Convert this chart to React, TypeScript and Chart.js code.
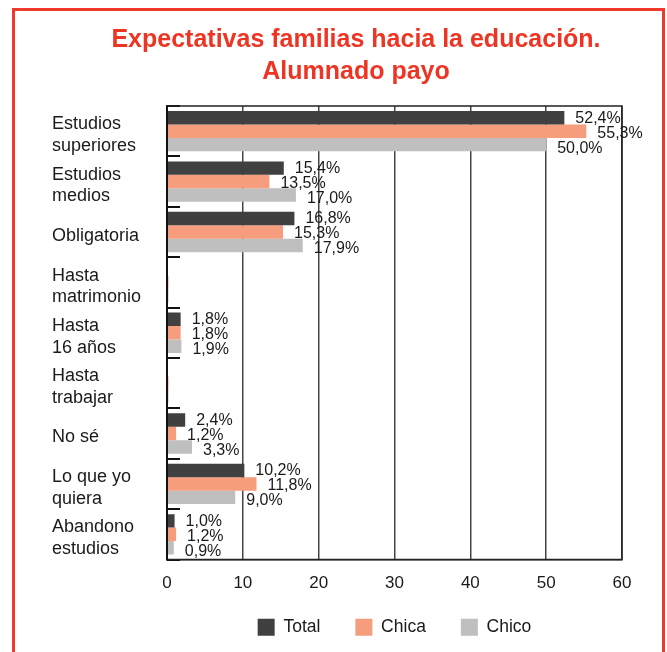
import React, { useEffect, useRef } from "react";
import { Chart, registerables } from "chart.js";

Chart.register(...registerables);

const categories: (string | string[])[] = [
  ["Estudios", "superiores"],
  ["Estudios", "medios"],
  "Obligatoria",
  ["Hasta", "matrimonio"],
  ["Hasta", "16 años"],
  ["Hasta", "trabajar"],
  "No sé",
  ["Lo que yo", "quiera"],
  ["Abandono", "estudios"],
];

const totalValues = [52.4, 15.4, 16.8, 0, 1.8, 0, 2.4, 10.2, 1.0];
const chicaValues = [55.3, 13.5, 15.3, 0.2, 1.8, 0.2, 1.2, 11.8, 1.2];
const chicoValues = [50.0, 17.0, 17.9, 0.2, 1.9, 0.2, 3.3, 9.0, 0.9];

const seriesNames = ["Total", "Chica", "Chico"];
const seriesColors = ["#404040", "#f59d7d", "#bfbfbf"];

const titleLines = ["Expectativas familias hacia la educación.", "Alumnado payo"];

const xMin = 0;
const xMax = 60;
const xStep = 10;

const FONT = "'Liberation Sans', Arial, Helvetica, sans-serif";

const decorPlugin = {
  id: "decor",
  afterLayout(chart: any) {
    // let the x tick labels draw below the (compact) axis box without clipping
    const x = chart.scales.x;
    if (x) {
      x.height = 44;
      x.bottom = x.top + 44;
    }
  },
  afterDatasetsDraw(chart: any) {
    const { ctx, chartArea, scales } = chart;
    const y = scales.y;
    ctx.save();
    ctx.strokeStyle = "#111";
    ctx.lineWidth = 2;
    const n = chart.data.labels.length;
    for (let i = 0; i <= n; i++) {
      const py = Math.round(y.getPixelForValue(i - 0.5));
      ctx.beginPath();
      ctx.moveTo(chartArea.left, py);
      ctx.lineTo(chartArea.left + 13, py);
      ctx.stroke();
    }
    ctx.lineWidth = 1.5;
    ctx.strokeStyle = "#222";
    ctx.strokeRect(chartArea.left, chartArea.top, chartArea.right - chartArea.left, chartArea.bottom - chartArea.top);
    ctx.lineWidth = 2;
    ctx.strokeStyle = "#111";
    ctx.beginPath();
    ctx.moveTo(chartArea.left, chartArea.top);
    ctx.lineTo(chartArea.left, chartArea.bottom);
    ctx.stroke();
    ctx.font = `16px ${FONT}`;
    ctx.fillStyle = "#1a1a1a";
    ctx.textAlign = "left";
    ctx.textBaseline = "middle";
    chart.data.datasets.forEach((ds: any, di: number) => {
      const meta = chart.getDatasetMeta(di);
      meta.data.forEach((bar: any, i: number) => {
        const v = ds.data[i];
        if (v < 0.5) return;
        const txt = v.toFixed(1).replace(".", ",") + "%";
        ctx.fillText(txt, bar.x + 11, bar.y + 2 + (di - 1) * 1.5);
      });
    });
    ctx.restore();
  },
};

export default function App() {
  const ref = useRef<HTMLCanvasElement | null>(null);

  useEffect(() => {
    if (!ref.current) return;
    const chart = new Chart(ref.current, {
      type: "bar",
      data: {
        labels: categories,
        datasets: [totalValues, chicaValues, chicoValues].map((d, i) => ({
          label: seriesNames[i],
          data: d,
          backgroundColor: seriesColors[i],
          borderWidth: 0,
          categoryPercentage: 0.8,
          barPercentage: 1.0,
        })),
      },
      options: {
        indexAxis: "y",
        responsive: false,
        animation: false,
        layout: { padding: { left: 52, right: 7, top: 24, bottom: 6 } },
        plugins: {
          title: {
            display: true,
            text: titleLines,
            color: "#ee3524",
            font: { family: FONT, size: 25, weight: "bold", lineHeight: 1.28 },
            padding: { top: 0, bottom: 18 },
          },
          legend: {
            display: true,
            position: "bottom",
            fullSize: false,
            labels: {
              boxWidth: 17,
              boxHeight: 17,
              padding: 35,
              color: "#1a1a1a",
              font: { family: FONT, size: 17.5 },
            },
          },
          tooltip: { enabled: false },
        },
        scales: {
          x: {
            min: xMin,
            max: xMax,
            ticks: {
              stepSize: xStep,
              color: "#1a1a1a",
              font: { family: FONT, size: 17 },
              padding: 14,
            },
            grid: { color: "#444", lineWidth: 1.5, drawTicks: false },
            border: { display: true, color: "#222", width: 1.5 },
            afterFit: (s: any) => {
              s.height = 24;
            },
          },
          y: {
            ticks: {
              color: "#1a1a1a",
              font: { family: FONT, size: 18, lineHeight: 1.2 },
              crossAlign: "far",
              padding: 0,
              labelOffset: 4,
            },
            grid: { display: false, drawTicks: false },
            border: { display: true, color: "#111", width: 2 },
            afterFit: (s: any) => {
              s.width = 115;
            },
          },
          yRight: {
            axis: "y",
            position: "right",
            display: true,
            ticks: { display: false },
            grid: { display: false, drawTicks: false },
            border: { display: false },
            afterFit: (s: any) => {
              s.width = 38;
            },
          },
        },
      },
      plugins: [decorPlugin],
    } as any);
    return () => chart.destroy();
  }, []);

  return (
    <div
      style={{
        position: "fixed",
        left: 0,
        top: 0,
        width: 667,
        height: 652,
        overflow: "hidden",
        background: "#fff",
      }}
    >
      <canvas
        ref={ref}
        width={667}
        height={652}
        style={{ position: "absolute", left: 0, top: 0, width: 667, height: 652 }}
      />
      <div
        style={{
          position: "absolute",
          left: 12,
          top: 8,
          width: 653,
          height: 720,
          boxSizing: "border-box",
          border: "3px solid #ef3a2b",
          pointerEvents: "none",
        }}
      />
    </div>
  );
}
